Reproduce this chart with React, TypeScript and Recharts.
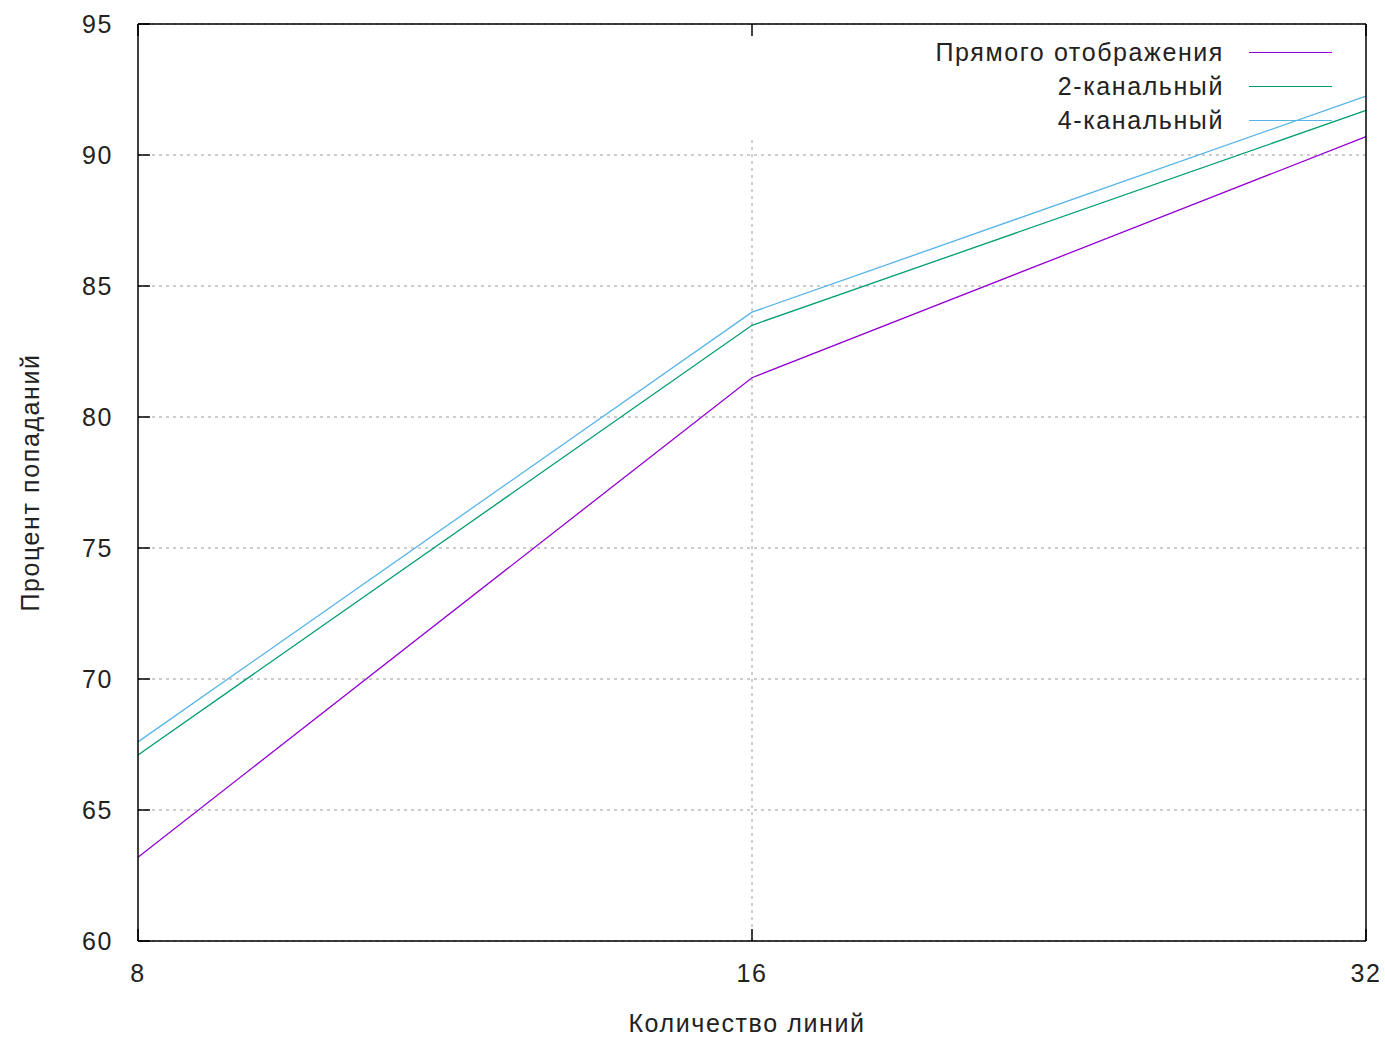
import {
  LineChart,
  Line,
  XAxis,
  YAxis,
  CartesianGrid,
  ReferenceLine,
  Label,
} from "recharts";

const lineCounts = [8, 16, 32];
const directMapped = [63.2, 81.5, 90.7];
const twoWay = [67.1, 83.5, 91.7];
const fourWay = [67.6, 84.0, 92.25];
const yTicks = [60, 65, 70, 75, 80, 85, 90, 95];

const seriesNames = ["Прямого отображения", "2-канальный", "4-канальный"];
const seriesColors = ["#9400d3", "#009e73", "#56b4e9"];

const chartData = lineCounts.map((x, i) => ({
  x,
  direct: directMapped[i],
  two: twoWay[i],
  four: fourWay[i],
}));

const font = "'Liberation Sans', Arial, sans-serif";
const textStyle = { fontSize: 25, fill: "#222", fontFamily: font, letterSpacing: 1.6 };
const axisLine = { stroke: "#000", strokeWidth: 1.5 };

// gnuplot-like key in the top right corner, kept out of the chart layout
function KeyBox() {
  return (
    <div style={{ position: "absolute", top: 35, right: 53, fontFamily: font, fontSize: 25, letterSpacing: 1.6, color: "#222" }}>
      {seriesNames.map((name, i) => (
        <div key={name} style={{ display: "flex", alignItems: "center", justifyContent: "flex-end", height: 34 }}>
          <span style={{ whiteSpace: "nowrap" }}>{name}</span>
          <span style={{ display: "inline-block", width: 83, marginLeft: 25, borderTop: `1.5px solid ${seriesColors[i]}` }} />
        </div>
      ))}
    </div>
  );
}

export default function App() {
  return (
    <div style={{ position: "absolute", left: 0, top: 0, width: 1385, height: 1039, background: "#fff" }}>
      <LineChart width={1385} height={1039} data={chartData} margin={{ top: 23, right: 18, left: 0, bottom: 0 }}>
        <CartesianGrid vertical={false} stroke="#9a9a9a" strokeDasharray="3 4" />
        <ReferenceLine segment={[{ x: 16, y: 60 }, { x: 16, y: 90.7 }]} stroke="#9a9a9a" strokeDasharray="3 4" />
        <XAxis
          dataKey="x"
          type="category"
          height={98}
          padding={{ left: 0, right: 0 }}
          tick={textStyle}
          tickSize={-12}
          tickMargin={35}
          axisLine={axisLine}
          tickLine={axisLine}
        >
          <Label value="Количество линий" position="center" dx={-5} dy={33} style={textStyle} />
        </XAxis>
        <XAxis
          xAxisId="top"
          dataKey="x"
          type="category"
          orientation="top"
          height={1}
          padding={{ left: 0, right: 0 }}
          tickFormatter={() => ""}
          tickSize={-12}
          axisLine={axisLine}
          tickLine={axisLine}
        />
        <YAxis
          width={138}
          domain={[60, 95]}
          ticks={yTicks}
          tick={textStyle}
          tickSize={-12}
          tickMargin={37}
          axisLine={axisLine}
          tickLine={axisLine}
        >
          <Label value="Процент попаданий" angle={-90} position="center" dx={-39} dy={0} style={{ ...textStyle, textAnchor: "middle" }} />
        </YAxis>
        <YAxis
          yAxisId="right"
          orientation="right"
          width={1}
          domain={[60, 95]}
          ticks={yTicks}
          tickFormatter={() => ""}
          tickSize={-12}
          axisLine={axisLine}
          tickLine={axisLine}
        />
        <Line dataKey="direct" name={seriesNames[0]} stroke={seriesColors[0]} strokeWidth={1.3} dot={false} isAnimationActive={false} />
        <Line dataKey="two" name={seriesNames[1]} stroke={seriesColors[1]} strokeWidth={1.3} dot={false} isAnimationActive={false} />
        <Line dataKey="four" name={seriesNames[2]} stroke={seriesColors[2]} strokeWidth={1.3} dot={false} isAnimationActive={false} />
      </LineChart>
      <KeyBox />
    </div>
  );
}
